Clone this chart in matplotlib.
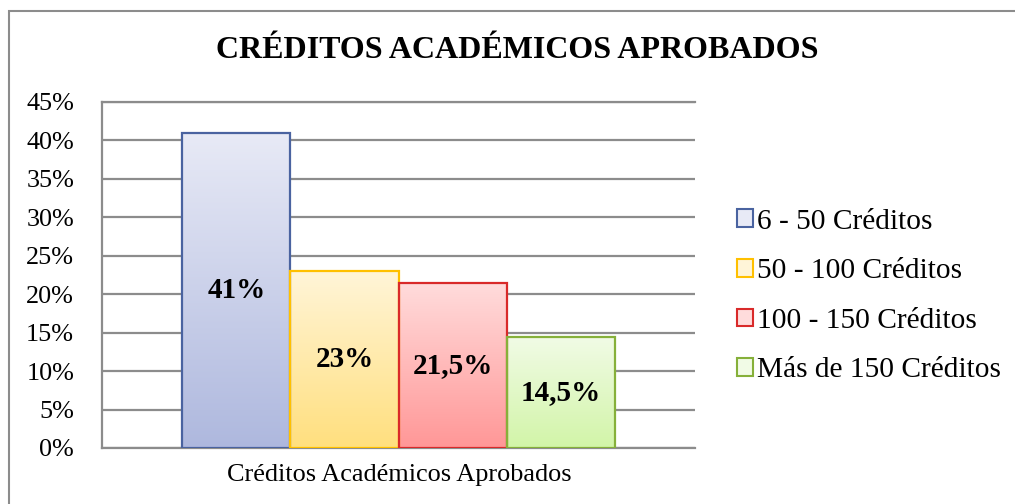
import numpy as np
import matplotlib
matplotlib.use("Agg")
import matplotlib.pyplot as plt
from matplotlib.colors import LinearSegmentedColormap
from matplotlib.patches import Rectangle

plt.rcParams["font.family"] = ["Liberation Serif", "DejaVu Serif"]

# datos
categorias = ["6 - 50 Créditos", "50 - 100 Créditos", "100 - 150 Créditos", "Más de 150 Créditos"]
valores = [41, 23, 21.5, 14.5]
etiquetas = ["41%", "23%", "21,5%", "14,5%"]
eje_x = "Créditos Académicos Aprobados"
titulo = "CRÉDITOS ACADÉMICOS APROBADOS"
ticks_y = [0, 5, 10, 15, 20, 25, 30, 35, 40, 45]

# (arriba, abajo, borde)
colores = [
    ("#e8eaf6", "#aeb8de", "#4a63a0"),
    ("#fff5d8", "#ffdf7e", "#ffc000"),
    ("#ffdcdc", "#ff9797", "#d92a2a"),
    ("#f1fbe6", "#d2f5a8", "#86b03a"),
]

fig = plt.figure(figsize=(10.15, 5.04), dpi=100)
W, H = 1015, 504

# marco exterior del gráfico
fig.add_artist(Rectangle((9 / W, -0.1), 1.2, (H - 11) / H + 0.1, transform=fig.transFigure,
                         facecolor="none", edgecolor="#8c8c8c", linewidth=1.5))

ax = fig.add_axes([102 / W, (H - 448) / H, (695 - 102) / W, (448 - 102) / H])

x = np.arange(len(valores))
ancho = 1.0
bars = ax.bar(x, valores, width=ancho, color="none", edgecolor="none", zorder=3)

grad = np.linspace(0, 1, 256).reshape(-1, 1)
for b, (top, bot, edge), lab in zip(bars, colores, etiquetas):
    x0, w, h = b.get_x(), b.get_width(), b.get_height()
    cmap = LinearSegmentedColormap.from_list("g", [bot, top])
    ax.imshow(grad, extent=(x0, x0 + w, 0, h), origin="lower", cmap=cmap,
              aspect="auto", zorder=3)
    ax.add_patch(Rectangle((x0, 0), w, h, facecolor="none", edgecolor=edge,
                           linewidth=1.6, zorder=4))
    ax.text(x0 + w / 2, h / 2, lab, ha="center", va="center", fontsize=21,
            fontweight="bold", zorder=5)

ax.set_xlim(1.5 - 2.745, 1.5 + 2.745)
ax.set_ylim(0, 45)
ax.set_yticks(ticks_y)
ax.set_yticklabels([f"{t}%" for t in ticks_y], fontsize=18.8)
ax.yaxis.grid(True, color="#8c8c8c", linewidth=1.6, zorder=0)
ax.set_axisbelow(True)
ax.tick_params(axis="y", length=0, pad=20)
ax.set_xticks([])
ax.spines["right"].set_visible(False)
for s in ["left", "bottom", "top"]:
    ax.spines[s].set_color("#8c8c8c")
    ax.spines[s].set_linewidth(1.6)

fig.text(399 / W, 1 - 475 / H, eje_x, ha="center", va="center", fontsize=18.9)
fig.text(517 / W, 1 - 50 / H, titulo, ha="center", va="center", fontsize=23,
         fontweight="bold")

handles = [Rectangle((0, 0), 1, 1, facecolor=c[0], edgecolor=c[2], linewidth=1.5)
           for c in colores]
leg = fig.legend(handles, categorias, loc="upper left", bbox_to_anchor=(725 / W, 1 - 197 / H),
                 frameon=False, fontsize=21.2, handlelength=0.55, handleheight=0.55,
                 handletextpad=0.15, labelspacing=0.8, borderaxespad=0)

fig.savefig("out.png", dpi=100)
